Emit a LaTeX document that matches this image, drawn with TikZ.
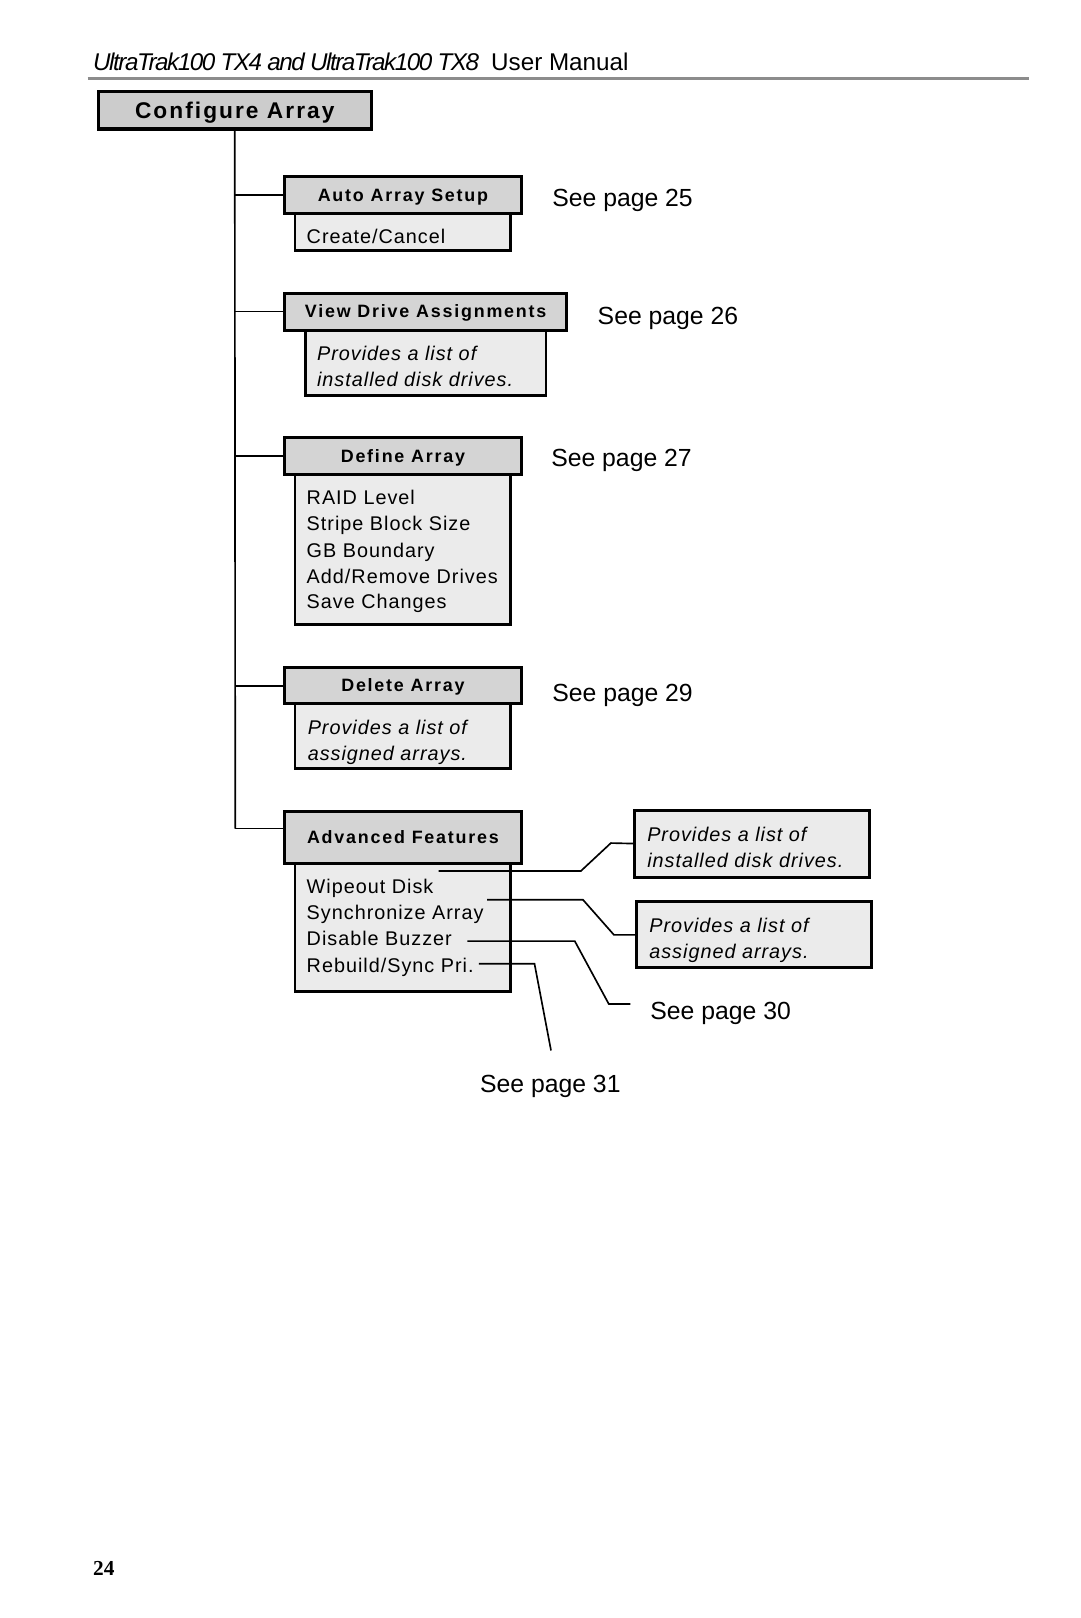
\documentclass[tikz,border=0pt]{standalone}
\usepackage{fontspec}
\setmainfont{Liberation Sans}
\newfontfamily\hdfont[LetterSpace=10]{Liberation Sans}
\newfontfamily\cfgfont[LetterSpace=9]{Liberation Sans}
\newfontfamily\itemfont[LetterSpace=5]{Liberation Sans}
\newfontfamily\tightfont[LetterSpace=-6]{Liberation Sans}
\newfontfamily\pagefont{Liberation Serif}
\usetikzlibrary{calc,fit}
\definecolor{hdgray}{gray}{0.83}
\definecolor{subgray}{gray}{0.92}
\definecolor{cfggray}{gray}{0.80}
\definecolor{rulegray}{gray}{0.55}
\tikzset{
  hdbox/.style={draw, line width=2.2pt, fill=hdgray, inner sep=0pt},
  cfgbox/.style={draw, line width=2.2pt, fill=cfggray, inner sep=0pt},
  subbox/.style={draw, line width=1.9pt, fill=subgray, inner sep=0pt},
  itemtxt/.style={anchor=base west, inner sep=0pt, font=\itemfont\fontsize{14.4}{19}\selectfont},
  ittxt/.style={itemtxt, font=\itemfont\itshape\fontsize{14.4}{19}\selectfont},
  hdtxt/.style={anchor=base, inner sep=0pt, font=\hdfont\bfseries\fontsize{13}{15}\selectfont},
  seetxt/.style={anchor=base west, inner sep=0pt, font=\fontsize{18}{21}\selectfont},
  wire/.style={line width=1.2pt, line join=miter},
}
\begin{document}
\begin{tikzpicture}[x=0.75pt,y=-0.75pt]
\useasboundingbox (0,0) rectangle (1047,1568);
% page header
\node[anchor=base west, inner sep=0pt, font=\fontsize{17.6}{20}\selectfont] (title) at (90,68)
  {{\tightfont\itshape UltraTrak100 TX4 and UltraTrak100 TX8}\hspace{0.5em}User Manual};
\draw[rulegray, line width=2.2pt] (85,76) coordinate (r1) -- (997,76) coordinate (r2);
% root
\node[cfgbox, fit={(95,89) (360,125)}] (cfg) {};
\node[anchor=base, inner sep=0pt, font=\cfgfont\bfseries\fontsize{16.5}{19}\selectfont] (cfgt) at ($(cfg.center)+(0,8)$) {Configure Array};
% trunk
\coordinate (tbot) at (228,803);
\draw[wire] (cfg.south) -- (tbot);

% Auto Array Setup
\node[subbox, fit={(286,207) (495,243)}] (autos) {};
\node[hdbox, fit={(276,171) (505,207)}] (autoh) {};
\node[hdtxt] (autot) at ($(autoh.center)+(0,6)$) {Auto Array Setup};
\node[itemtxt] (autoi) at (297,236) {Create/Cancel};
\node[seetxt] (see25) at (535,200) {See page 25};
\draw[wire] (cfg.south |- autoh.west) -- (autoh.west);

% View Drive Assignments
\node[subbox, fit={(296,320) (529,383)}] (views) {};
\node[hdbox, fit={(276,284) (549,320)}] (viewh) {};
\node[hdtxt] (viewt) at ($(viewh.center)+(0,6)$) {View Drive Assignments};
\node[ittxt] (viewi1) at (307,349) {Provides a list of};
\node[ittxt] (viewi2) at (307,375) {installed disk drives.};
\node[seetxt] (see26) at (579,314) {See page 26};
\draw[wire] (cfg.south |- viewh.west) -- (viewh.west);

% Define Array
\node[subbox, fit={(286,460) (495,605)}] (defs) {};
\node[hdbox, fit={(276,424) (505,460)}] (defh) {};
\node[hdtxt] (deft) at ($(defh.center)+(0,6)$) {Define Array};
\node[itemtxt] (defi1) at (297,489) {RAID Level};
\node[itemtxt] (defi2) at (297,514) {Stripe Block Size};
\node[itemtxt] (defi3) at (297,540) {GB Boundary};
\node[itemtxt] (defi4) at (297,565) {Add/Remove Drives};
\node[itemtxt] (defi5) at (297,590) {Save Changes};
\node[seetxt] (see27) at (534,452) {See page 27};
\draw[wire] (cfg.south |- defh.west) -- (defh.west);

% Delete Array
\node[subbox, fit={(286,682) (495,745)}] (dels) {};
\node[hdbox, fit={(276,647) (505,682)}] (delh) {};
\node[hdtxt] (delt) at ($(delh.center)+(0,6)$) {Delete Array};
\node[ittxt] (deli1) at (298,712) {Provides a list of};
\node[ittxt] (deli2) at (298,737) {assigned arrays.};
\node[seetxt] (see29) at (535,680) {See page 29};
\draw[wire] (cfg.south |- delh.west) -- (delh.west);

% Advanced Features
\node[subbox, fit={(286,837) (495,961)}] (advs) {};
\node[hdbox, fit={(276,786) (505,837)}] (advh) {};
\node[hdtxt] (advt) at ($(advh.center)+(0,6)$) {Advanced Features};
\node[itemtxt] (adv1) at (297,866) {Wipeout Disk};
\node[itemtxt] (adv2) at (297,891) {Synchronize Array};
\node[itemtxt] (adv3) at (297,916) {Disable Buzzer};
\node[itemtxt] (adv4) at (297,942) {Rebuild/Sync Pri.};
\draw[wire] (tbot) -- (tbot -| advh.west);

% right boxes
\node[subbox, line width=2.2pt, fit={(615,785) (843,850)}] (rb1) {};
\node[ittxt] (rb1a) at (627,815) {Provides a list of};
\node[ittxt] (rb1b) at (627,841) {installed disk drives.};
\node[subbox, line width=2.2pt, fit={(617,874) (845,938)}] (rb2) {};
\node[ittxt] (rb2a) at (629,904) {Provides a list of};
\node[ittxt] (rb2b) at (629,929) {assigned arrays.};
\node[seetxt] (see30) at (630,988) {See page 30};
\node[seetxt] (see31) at (465,1059) {See page 31};

% callout connectors
\coordinate (c1s) at (425,844);
\coordinate (c2s) at (472,872);
\coordinate (c3s) at (453,912);
\coordinate (c4s) at (464,934);
\draw[wire] (c1s) -- (563,844) -- (592,817) -- (rb1.west);
\draw[wire] (c2s) -- (565,872) -- (595,906) -- (rb2.west);
\draw[wire] (c3s) -- (557,912) -- (590,973) -- ($(see30.base west)+(-19,-15)$);
\draw[wire] (c4s) -- (518,934) -- (534,1018) coordinate (c4e);

% page number
\node[anchor=base west, inner sep=0pt, font=\pagefont\bfseries\fontsize{15.5}{18}\selectfont] (pnum) at (90,1527) {24};
\end{tikzpicture}
\end{document}
